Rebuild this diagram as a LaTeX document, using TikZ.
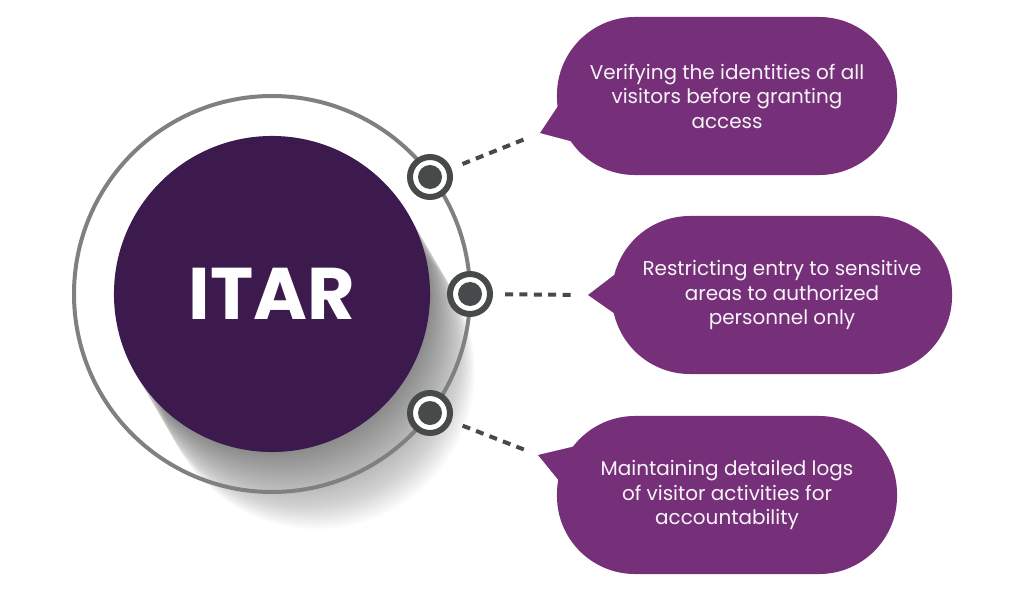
\documentclass[tikz,border=0pt]{standalone}
\usepackage{fontspec}
\setmainfont{Poppins}
\usetikzlibrary{positioning}

\definecolor{hubpurple}{HTML}{3C1A4E}
\definecolor{bubblepurple}{HTML}{76307A}
\definecolor{ringgray}{HTML}{808080}
\definecolor{dotgray}{HTML}{474A4A}

\begin{document}
\begin{tikzpicture}[x=0.025cm, y=-0.025cm,
  hub/.style={circle, fill=hubpurple, minimum size=7.9cm, inner sep=0pt, text=white,
    font=\fontsize{52}{52}\selectfont\bfseries},
  dot/.style={circle, draw=dotgray, line width=1.5mm, fill=white, minimum size=1cm, inner sep=0pt,
    path picture={\fill[dotgray] (path picture bounding box.center) circle (3mm);}},
  bubble/.style={rectangle, rounded corners=1.95cm, fill=bubblepurple, minimum width=8.5cm,
    minimum height=3.95cm, align=center, text=white!94!bubblepurple,
    font=\fontsize{14.2}{17.4}\selectfont},
  link/.style={dotgray, line width=1mm, dash pattern=on 2mm off 1.6mm,
    shorten <=3mm, shorten >=3mm}
]
  \useasboundingbox (0,0) rectangle (1024,597);
  \coordinate (c) at (272,294);

  % long shadow behind the hub
  \foreach \k in {1,...,50}
    \fill[black, opacity=0.013] (272+\k*0.9,294+\k*1.55) circle (158);

  \draw[ringgray, line width=1mm] (c) circle (198);
  \node[hub] (hub) at (c) {ITAR};

  \node[dot] (d1) at (430,177) {};
  \node[dot] (d2) at (470,294) {};
  \node[dot] (d3) at (430,413) {};

  \node[bubble] (b1) at (727,96) {Verifying the identities of all\\visitors before granting\\access};
  \node[bubble] (b2) at (782,295) {Restricting entry to sensitive\\areas to authorized\\personnel only};
  \node[bubble] (b3) at (727,495) {Maintaining detailed logs\\of visitor activities for\\accountability};

  % bubble tails
  \coordinate (t1) at (540,133);
  \coordinate (t2) at (588,295);
  \coordinate (t3) at (538,455);
  \fill[bubblepurple] (t1) -- (562,100) -- (585,145) -- cycle;
  \fill[bubblepurple] (t2) -- (618,272) -- (618,316) -- cycle;
  \fill[bubblepurple] (t3) -- (580,445) -- (560,482) -- cycle;

  \draw[link] (d1) -- (t1);
  \draw[link] (d2) -- (t2);
  \draw[link] (d3) -- (t3);
\end{tikzpicture}
\end{document}
